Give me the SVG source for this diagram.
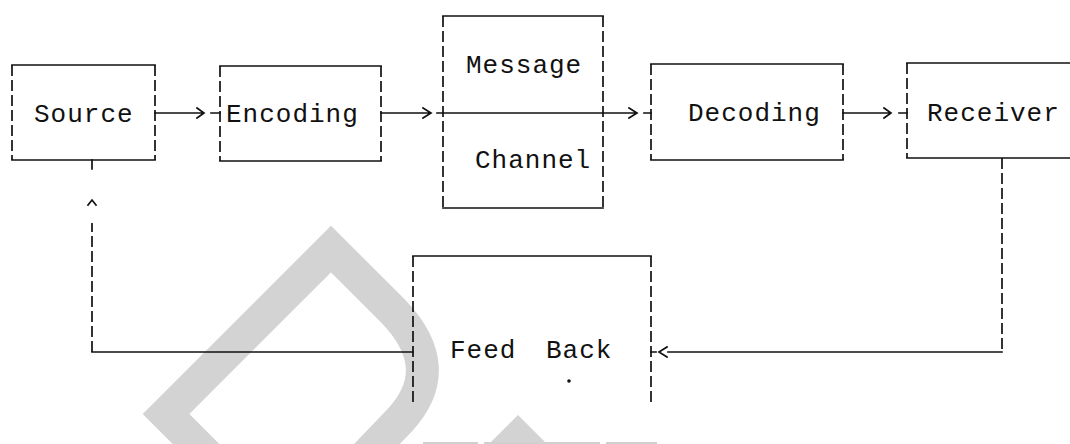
<svg xmlns="http://www.w3.org/2000/svg" width="1070" height="444" viewBox="0 0 1070 444">
<defs>
<style>
.s{fill:none;stroke:#111;stroke-width:1.7;stroke-linecap:square}
.d{fill:none;stroke:#111;stroke-width:1.7;stroke-dasharray:11 4}
.t{font-family:"Liberation Mono","DejaVu Sans Mono",monospace;font-size:26px;fill:#111;letter-spacing:1px}
.wm{fill:none;stroke:#d3d3d3;stroke-width:33;stroke-linejoin:miter}
</style>
</defs>
<rect width="1070" height="444" fill="#fff"/>
<g id="watermark">
<path class="wm" d="M232,480 L166,414 L331,249 L393,311 Q448,368 400,420 L350,472"/>
<polygon points="518,415 547,444 489,444" fill="#d3d3d3"/>
<line x1="423" y1="443" x2="657" y2="443" stroke="#d0d0d0" stroke-width="2" stroke-dasharray="55 6"/>
</g>
<g id="source">
<path class="s" d="M12,65 H155 M12,160 H155"/>
<path class="d" d="M12,65 V160 M155,65 V160"/>
<text class="t" x="34" y="122">Source</text>
</g>
<g id="encoding">
<path class="s" d="M220,66 H381 M220,161 H381"/>
<path class="d" d="M220,66 V161 M381,66 V161"/>
<text class="t" x="226" y="122">Encoding</text>
</g>
<g id="channel">
<path class="s" d="M443,16 H603 M443,208 H603"/>
<path class="d" d="M443,16 V208 M603,16 V208"/>
<text class="t" x="466" y="73">Message</text>
<text class="t" x="475" y="168">Channel</text>
</g>
<g id="decoding">
<path class="s" d="M651,64 H843 M651,160 H843"/>
<path class="d" d="M651,64 V160 M843,64 V160"/>
<text class="t" x="688" y="121">Decoding</text>
</g>
<g id="receiver">
<path class="s" d="M907,63 H1070 M907,158 H1070"/>
<path class="d" d="M907,63 V158"/>
<text class="t" x="927" y="121">Receiver</text>
</g>
<g id="feedback">
<path class="s" d="M413,256 H651"/>
<path class="d" d="M413,256 V405 M651,256 V405"/>
<text class="t" x="450" y="358">Feed</text>
<text class="t" x="546" y="358">Back</text>
<circle cx="569" cy="381" r="1.8" fill="#111"/>
</g>
<g id="connectors">
<path class="s" d="M155,113 H203 M197,108 L204,113 L197,118 M211,113 H220"/>
<path class="s" d="M381,113 H430 M423,108 L431,113 L423,118 M437,113 H603 H636 M629,108 L637,113 L629,118 M644,113 H651"/>
<path class="s" d="M843,113 H890 M884,108 L891,113 L884,118 M899,113 H907"/>
<path class="d" d="M1002,158 V352"/>
<path class="s" d="M1002,352 H668 M667,347 L659,352 L667,357 M651,352 H656"/>
<path class="s" d="M413,352 H92"/>
<path class="d" d="M92,352 V223"/>
<path class="s" d="M88,205 L92,200 L96,205 M92,160 V169"/>
</g>
</svg>
